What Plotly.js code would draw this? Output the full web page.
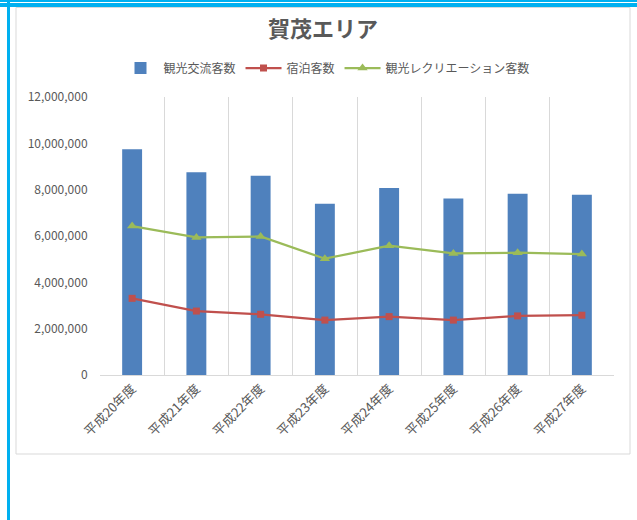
<!DOCTYPE html>
<html>
<head>
<meta charset="utf-8">
<script src="https://cdn.plot.ly/plotly-3.0.1.min.js"></script>
<style>html,body{margin:0;padding:0;background:#fff;}#chart{width:637px;height:520px;}</style>
</head>
<body>
<div id="chart"></div>
<script>
const categories = ["平成20年度","平成21年度","平成22年度","平成23年度","平成24年度","平成25年度","平成26年度","平成27年度"];
const koryu = [9740000, 8750000, 8600000, 7390000, 8070000, 7620000, 7820000, 7780000];
const shukuhaku = [3310000, 2760000, 2620000, 2370000, 2520000, 2370000, 2550000, 2580000];
const recreation = [6430000, 5940000, 5980000, 5020000, 5580000, 5250000, 5280000, 5220000];
const seriesNames = ["観光交流客数", "宿泊客数", "観光レクリエーション客数"];
const yTickVals = [0, 2000000, 4000000, 6000000, 8000000, 10000000, 12000000];

const W = 637, H = 520;
const M = {l: 100, r: 23, t: 97, b: 145};
const PW = W - M.l - M.r, PH = H - M.t - M.b;
const px = x => (x - M.l) / PW;
const py = y => (H - M.b - y) / PH;

const FONT = "'Noto Sans CJK JP', 'Noto Sans', sans-serif";
const GRAY = "#595959";

const traces = [
  {type: "bar", name: seriesNames[0], x: categories, y: koryu,
   marker: {color: "#4f81bd"}},
  {type: "scatter", mode: "lines+markers", name: seriesNames[1], x: categories, y: shukuhaku,
   line: {color: "#c0504d", width: 2.25}, marker: {symbol: "square", size: 7, color: "#c0504d"}},
  {type: "scatter", mode: "lines+markers", name: seriesNames[2], x: categories, y: recreation,
   line: {color: "#9bbb59", width: 2.25}, marker: {symbol: "triangle-up", size: 9, color: "#9bbb59"}}
];

const shapes = [
  {type: "rect", xref: "paper", yref: "paper", x0: px(16), x1: px(630), y0: py(7.5), y1: py(454),
   line: {color: "#d9d9d9", width: 1}, fillcolor: "rgba(0,0,0,0)", layer: "below"},
  {type: "rect", xref: "paper", yref: "paper", x0: px(0), x1: px(637), y0: py(0), y1: py(2),
   line: {width: 0}, fillcolor: "#00b0f0"},
  {type: "rect", xref: "paper", yref: "paper", x0: px(0), x1: px(637), y0: py(3), y1: py(7),
   line: {width: 0}, fillcolor: "#00b0f0"},
  {type: "rect", xref: "paper", yref: "paper", x0: px(7), x1: px(10), y0: py(0), y1: py(520),
   line: {width: 0}, fillcolor: "#00b0f0"}
];

const layout = {
  width: W, height: H,
  margin: M,
  paper_bgcolor: "#ffffff", plot_bgcolor: "#ffffff",
  font: {family: FONT, color: GRAY, size: 12},
  title: {text: "<b>賀茂エリア</b>", font: {family: FONT, size: 22, color: GRAY},
          xref: "container", yref: "container", x: 323 / W, y: 1 - 29 / H, xanchor: "center", yanchor: "middle"},
  showlegend: true,
  legend: {orientation: "h", xref: "container", yref: "container", x: 326 / W, y: 1 - 68 / H,
           xanchor: "center", yanchor: "middle", font: {family: FONT, size: 12, color: GRAY},
           traceorder: "normal", itemwidth: 36},
  bargap: 0.69,
  xaxis: {type: "category", tickson: "boundaries", showgrid: true, gridcolor: "#d9d9d9", gridwidth: 1,
          showline: true, linecolor: "#d9d9d9", linewidth: 1, ticks: "outside", ticklen: 5,
          tickcolor: "rgba(0,0,0,0)", tickangle: -45,
          tickfont: {family: FONT, size: 13, color: GRAY}, range: [-0.5, 7.5], fixedrange: true},
  yaxis: {range: [0, 12000000], tickvals: yTickVals, tickformat: ",d", showgrid: false, zeroline: false,
          showline: false, ticks: "outside", ticklen: 9, tickcolor: "rgba(0,0,0,0)",
          tickfont: {family: FONT, size: 12, color: GRAY}, fixedrange: true},
  shapes: shapes
};

Plotly.newPlot("chart", traces, layout, {staticPlot: true, displayModeBar: false});
</script>
</body>
</html>
